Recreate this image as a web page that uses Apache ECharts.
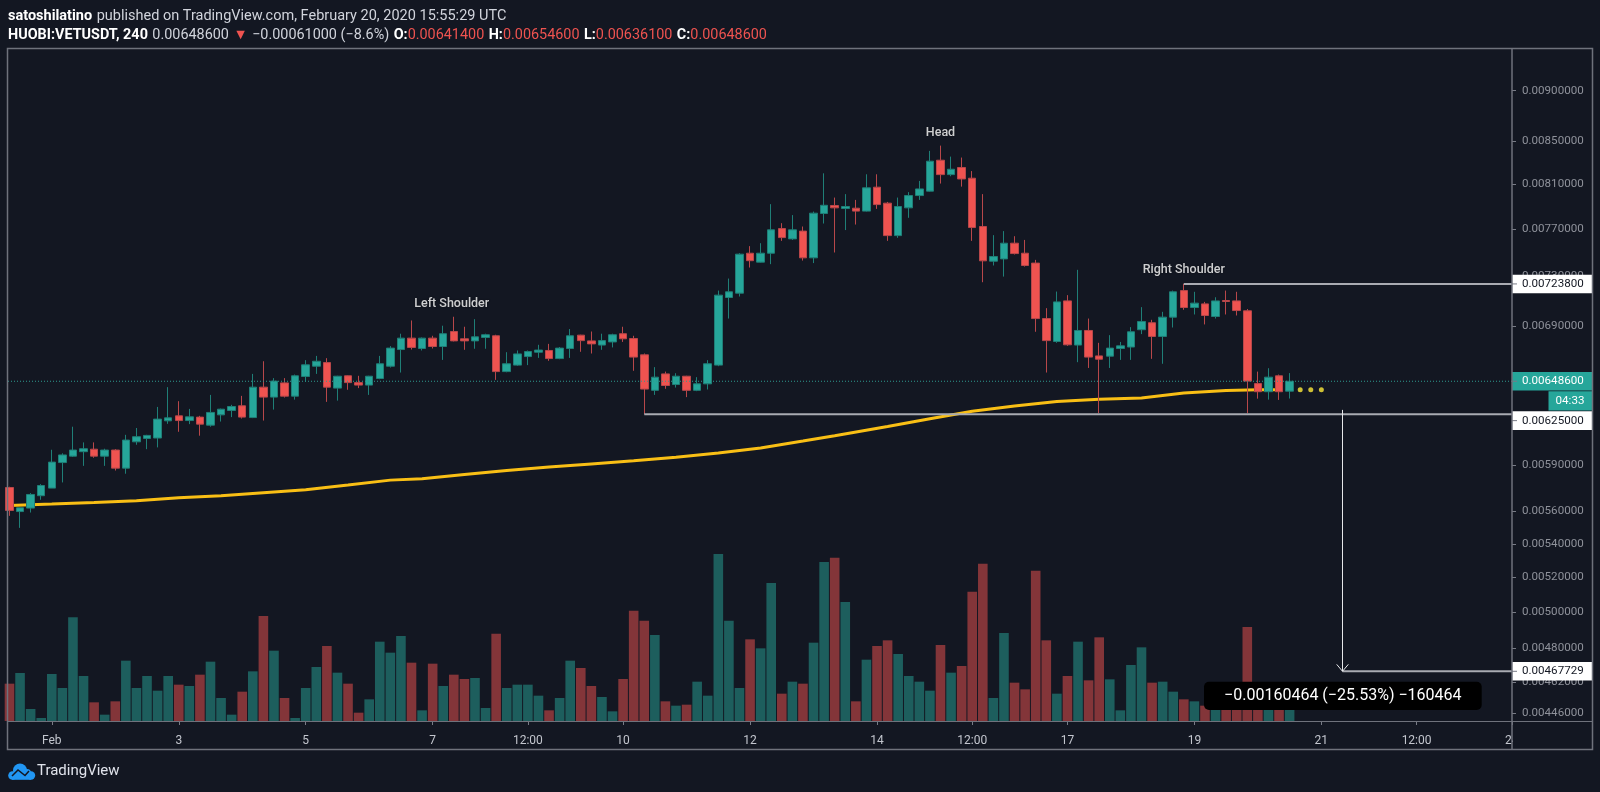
<!DOCTYPE html>
<html>
<head>
<meta charset="utf-8">
<title>HUOBI:VETUSDT, 240</title>
<style>
  html, body { margin: 0; padding: 0; background: #131722; }
  #chart { width: 1600px; height: 792px; }
</style>
<script src="https://cdn.jsdelivr.net/npm/echarts@6/dist/echarts.min.js"></script>
</head>
<body>
<div id="chart"></div>
<script>
// 4h candles, x is the candle number counted from Feb 1 00:00
const firstCandle = -4
// prices below are in units of 0.00001
const priceUnit = 0.00001

const opens = [575.4, 560.0, 562.2, 570.1, 575.0, 591.8, 596.1, 599.1, 600.8, 596.1, 600.2, 588.1, 605.8, 608.1, 608.4, 620.3, 623.8, 620.5, 622.9, 617.3, 624.5, 627.6, 630.9, 622.6, 644.3, 637.1, 647.4, 637.8, 652.1, 659.7, 662.4, 643.6, 652.6, 647.6, 645.8, 650.6, 659.7, 672.2, 680.9, 673.0, 680.9, 674.5, 686.0, 680.4, 678.8, 681.4, 682.7, 655.7, 660.5, 666.9, 670.2, 671.5, 665.4, 673.0, 683.2, 678.8, 675.6, 678.0, 684.3, 680.6, 668.2, 642.0, 654.0, 646.2, 652.3, 642.0, 646.7, 660.5, 712.8, 716.3, 749.3, 741.8, 749.3, 770.4, 761.5, 768.2, 745.4, 783.6, 790.7, 788.0, 788.3, 785.7, 807.2, 792.8, 764.3, 788.6, 799.6, 803.6, 832.1, 818.7, 825.3, 815.4, 772.2, 742.6, 744.5, 757.8, 749.3, 741.0, 696.1, 678.3, 710.1, 675.6, 686.8, 667.4, 667.2, 673.0, 674.1, 687.4, 692.8, 682.2, 697.2, 718.4, 704.8, 707.7, 697.7, 710.4, 710.1, 702.2, 646.9, 641.0, 652.6, 641.4]
const closes = [560.7, 562.4, 570.9, 576.7, 592.1, 596.9, 600.2, 601.1, 596.1, 600.2, 588.1, 607.0, 609.3, 610.2, 621.5, 622.4, 620.5, 623.1, 618.0, 626.2, 628.5, 630.4, 622.9, 644.3, 637.1, 648.7, 637.8, 652.6, 660.7, 663.4, 644.3, 652.3, 647.6, 645.8, 652.3, 661.5, 673.3, 680.9, 673.8, 680.9, 674.5, 684.3, 678.8, 678.8, 681.9, 683.5, 655.7, 661.5, 668.9, 670.7, 671.8, 665.4, 673.3, 682.7, 679.0, 676.5, 679.0, 683.5, 680.4, 666.5, 642.9, 651.6, 645.5, 652.3, 642.0, 646.7, 661.5, 714.7, 717.4, 748.5, 743.0, 749.3, 769.3, 762.6, 769.3, 745.4, 783.9, 790.9, 788.6, 789.8, 785.7, 806.6, 791.5, 764.3, 789.8, 799.6, 805.6, 831.2, 818.7, 823.7, 814.7, 771.3, 742.9, 746.5, 757.8, 749.0, 739.0, 696.1, 679.0, 709.3, 675.8, 686.8, 666.5, 664.9, 673.3, 675.0, 685.8, 693.8, 682.2, 697.2, 717.4, 704.8, 708.3, 698.5, 710.1, 709.6, 702.4, 648.7, 641.0, 651.6, 641.0, 648.6]
const lows = [557.3, 549.8, 559.4, 567.5, 575.0, 578.7, 595.6, 589.6, 595.0, 589.6, 586.5, 584.4, 603.8, 600.8, 602.0, 618.2, 612.7, 618.0, 610.0, 616.2, 619.8, 622.9, 621.9, 622.2, 620.5, 628.2, 636.8, 635.3, 648.4, 654.0, 633.7, 634.6, 642.4, 643.6, 638.7, 650.1, 658.7, 655.0, 672.2, 671.5, 673.0, 664.4, 678.4, 672.0, 672.8, 672.8, 649.6, 655.2, 660.0, 660.5, 665.9, 663.7, 664.9, 665.9, 670.5, 669.2, 672.0, 673.8, 678.0, 656.3, 625.0, 638.7, 643.1, 644.0, 637.1, 641.4, 642.6, 659.7, 696.1, 713.6, 737.3, 741.5, 740.1, 759.8, 760.6, 743.1, 741.0, 774.8, 749.9, 769.1, 773.9, 785.3, 787.7, 759.8, 762.4, 779.8, 795.7, 803.2, 810.5, 817.2, 807.7, 759.8, 725.2, 739.0, 729.8, 748.2, 738.1, 685.8, 655.0, 677.3, 675.0, 662.7, 658.4, 625.7, 658.4, 664.4, 664.4, 684.0, 665.2, 661.5, 689.1, 703.0, 699.3, 691.5, 696.1, 699.3, 698.5, 625.7, 636.0, 635.3, 635.1, 636.1]
const highs = [575.9, 562.4, 571.8, 577.6, 600.4, 598.0, 616.2, 605.4, 605.4, 601.1, 600.8, 610.6, 615.3, 610.6, 630.1, 644.3, 634.2, 628.7, 623.8, 638.7, 628.9, 631.6, 638.0, 654.0, 663.4, 650.9, 650.9, 653.5, 664.2, 667.4, 665.7, 652.6, 652.9, 652.6, 652.6, 667.4, 674.8, 684.3, 694.6, 681.4, 682.7, 690.5, 697.5, 689.7, 695.6, 684.3, 683.5, 670.2, 671.5, 671.5, 675.8, 676.5, 674.1, 687.9, 683.5, 686.0, 684.3, 684.3, 689.7, 682.7, 669.2, 659.0, 655.7, 654.5, 652.6, 651.6, 664.2, 718.4, 728.2, 749.3, 755.3, 757.8, 791.9, 775.1, 782.2, 772.2, 785.3, 819.9, 797.8, 800.9, 795.7, 819.0, 819.0, 793.9, 797.8, 802.7, 812.9, 840.9, 845.9, 835.5, 834.6, 822.0, 800.9, 764.7, 768.2, 763.8, 760.6, 743.7, 704.3, 717.6, 714.7, 735.4, 696.1, 677.3, 683.2, 678.0, 689.4, 705.1, 695.1, 701.4, 718.4, 723.9, 717.4, 709.3, 713.0, 718.4, 717.4, 703.6, 655.7, 658.2, 653.5, 654.6]
const volumes = [112, 144, 36, 9, 141, 99, 311, 135, 56, 19, 59, 181, 99, 135, 91, 135, 109, 105, 139, 178, 69, 19, 88, 149, 315, 211, 69, 9, 99, 162, 225, 145, 112, 25, 65, 238, 205, 255, 175, 32, 172, 105, 139, 126, 129, 39, 262, 99, 109, 109, 76, 32, 69, 181, 159, 105, 72, 29, 126, 331, 301, 258, 59, 46, 49, 118, 76, 501, 301, 99, 245, 218, 414, 82, 118, 112, 235, 477, 490, 357, 59, 184, 225, 242, 201, 135, 118, 91, 228, 145, 165, 388, 472, 69, 264, 115, 95, 451, 242, 82, 135, 238, 122, 251, 125, 32, 168, 221, 115, 118, 88, 65, 59, 46, 70, 80, 75, 282, 60, 50, 70, 60]

const maIndex = [-4, 0, 4, 8, 12, 16, 20, 24, 28, 32, 35, 39, 43, 47, 51, 55, 59, 63, 67, 71, 74, 79, 83, 87, 91, 95, 99, 103, 107, 111, 114, 116]
const maValues = [563.9, 564.8, 565.8, 566.9, 568.8, 570.1, 572.0, 573.9, 577.0, 580.2, 581.1, 583.9, 586.5, 588.8, 590.9, 593.0, 595.4, 598.2, 601.6, 606.3, 610.0, 616.4, 621.7, 627.0, 630.7, 634.0, 635.6, 636.5, 640.0, 641.8, 642.4, 642.4]
const maDotIndex = [118, 119, 120]
const maDotValue = 642.4

const lastPrice = 0.006486
const neckline = 0.00625
const shoulderTop = 0.007238
const targetPrice = 0.00467729

const priceTicks = [0.009, 0.0085, 0.0081, 0.0077, 0.0073, 0.0069, 0.0065, 0.0062, 0.0059, 0.0056, 0.0054, 0.0052, 0.005, 0.0048, 0.00462, 0.00446]
const timeTicks = [0, 12, 24, 36, 45, 54, 66, 78, 87, 96, 108, 120, 129, 138]
const timeLabels = ["Feb", "3", "5", "7", "12:00", "10", "12", "14", "12:00", "17", "19", "21", "12:00", "24"]

const noteNames = ["Left Shoulder", "Head", "Right Shoulder"]
const noteIndex = [37.8, 84, 107]
const notePrices = [0.007076, 0.008582, 0.007352]

const tagPrices = [shoulderTop, lastPrice, neckline, targetPrice]
const tagOffsets = [0, 0, 6.5, 0]
const tagFills = ["#ffffff", "#26a69a", "#ffffff", "#ffffff"]
const tagTexts = ["#131722", "#ffffff", "#131722", "#131722"]

const bg = "#131722"
const frame = "#6f727c"
const fontName = "Roboto, sans-serif"
const xMin = -4.14
const xMax = 138.02
const gridBox = { left: 8, top: 49, width: 1504, height: 672 }
const volumeMax = 2016

const candleData = opens.map((o, k) => [
  firstCandle + k,
  o * priceUnit,
  closes[k] * priceUnit,
  lows[k] * priceUnit,
  highs[k] * priceUnit,
])
const volumeData = volumes.map((v, k) => [firstCandle + k, v])
const maData = maIndex.map((x, k) => [x, maValues[k] * priceUnit])

function guideLine(points, color, width, dash) {
  return {
    type: "line",
    data: points,
    symbol: "none",
    silent: true,
    clip: false,
    z: 4,
    lineStyle: { color: color, width: width, type: dash || "solid" },
  }
}

function renderTag(params, api) {
  const k = params.dataIndex
  const p = api.coord([xMax, api.value(1)])
  const cy = p[1] + tagOffsets[k]
  const children = [
    { type: "rect", shape: { x: p[0], y: cy - 9.3, width: 80.5, height: 18.6 }, style: { fill: tagFills[k] } },
    { type: "line", shape: { x1: p[0], y1: cy, x2: p[0] + 5, y2: cy }, style: { stroke: "#787b86", lineWidth: 1 } },
    {
      type: "text",
      style: {
        x: p[0] + 10,
        y: cy,
        text: (tagPrices[k]).toFixed(8),
        fill: tagTexts[k],
        font: "11.6px " + fontName,
        textVerticalAlign: "middle",
      },
    },
  ]
  if (tagPrices[k] === lastPrice) {
    children.push({ type: "rect", shape: { x: p[0] + 36.5, y: cy + 10, width: 43.5, height: 19.3 }, style: { fill: "#26a69a" } })
    children.push({
      type: "text",
      style: {
        x: p[0] + 58,
        y: cy + 19.5,
        text: "04:33",
        fill: "#ffffff",
        font: "11.6px " + fontName,
        textAlign: "center",
        textVerticalAlign: "middle",
      },
    })
  }
  return { type: "group", children: children }
}

const chart = echarts.init(document.getElementById("chart"))

chart.setOption({
  backgroundColor: bg,
  animation: false,
  textStyle: { fontFamily: fontName },
  title: [
    {
      left: 8,
      top: 7,
      padding: 0,
      text: "{b|satoshilatino} {n|published on TradingView.com, February 20, 2020 15:55:29 UTC}",
      textStyle: {
        rich: {
          b: { fontFamily: fontName, fontSize: 14.5, fontWeight: "bold", color: "#ffffff" },
          n: { fontFamily: fontName, fontSize: 14.5, fontWeight: "normal", color: "#d1d4dc" },
        },
      },
    },
    {
      left: 8,
      top: 26,
      padding: 0,
      text: "{b|HUOBI:VETUSDT, 240} {n|0.00648600} {r|▼} {n|−0.00061000 (−8.6%)} {b|O:}{r|0.00641400} {b|H:}{r|0.00654600} {b|L:}{r|0.00636100} {b|C:}{r|0.00648600}",
      textStyle: {
        rich: {
          b: { fontFamily: fontName, fontSize: 14.4, fontWeight: "bold", color: "#ffffff" },
          n: { fontFamily: fontName, fontSize: 14.4, fontWeight: "normal", color: "#d1d4dc" },
          r: { fontFamily: fontName, fontSize: 14.4, fontWeight: "normal", color: "#ef5350" },
        },
      },
    },
  ],
  grid: [
    { left: gridBox.left, top: gridBox.top, width: gridBox.width, height: gridBox.height },
    { left: gridBox.left, top: gridBox.top, width: gridBox.width, height: gridBox.height },
  ],
  xAxis: [
    { type: "value", gridIndex: 0, min: xMin, max: xMax, show: false },
    {
      type: "value",
      gridIndex: 1,
      min: xMin,
      max: xMax,
      position: "bottom",
      splitLine: { show: false },
      axisLine: { show: false, onZero: false },
      axisTick: { customValues: timeTicks, length: 4, lineStyle: { color: "#787b86" } },
      axisLabel: {
        customValues: timeTicks,
        color: "#c3c6ce",
        fontFamily: fontName,
        fontSize: 12,
        margin: 14,
        hideOverlap: false,
        formatter: (v) => timeLabels[timeTicks.indexOf(v)],
      },
    },
  ],
  yAxis: [
    {
      type: "log",
      gridIndex: 0,
      position: "right",
      min: 0.0044225,
      max: 0.0094323,
      splitLine: { show: false },
      axisLine: { show: false, onZero: false },
      axisTick: { customValues: priceTicks, length: 4, lineStyle: { color: "#787b86" } },
      axisLabel: {
        customValues: priceTicks,
        color: "#8f929b",
        fontFamily: fontName,
        fontSize: 11.6,
        margin: 10,
        formatter: (v) => Number(v).toFixed(8),
      },
    },
    { type: "value", gridIndex: 1, min: 0, max: volumeMax, show: false },
  ],
  series: [
    {
      name: "Volume",
      type: "bar",
      xAxisIndex: 1,
      yAxisIndex: 1,
      data: volumeData,
      barWidth: 9.6,
      silent: true,
      z: 1,
      itemStyle: {
        color: (p) => (closes[p.dataIndex] >= opens[p.dataIndex] ? "#1d5e5d" : "#833539"),
      },
    },
    {
      name: "MA",
      type: "line",
      data: maData,
      symbol: "none",
      silent: true,
      z: 2,
      lineStyle: { color: "#f9bf15", width: 3 },
    },
    {
      name: "VETUSDT",
      type: "candlestick",
      data: candleData,
      barWidth: 8,
      z: 3,
      itemStyle: {
        color: "#26a69a",
        color0: "#ef5350",
        borderColor: "#1f7f77",
        borderColor0: "#b8474a",
        borderWidth: 1,
      },
    },
    {
      name: "MA dots",
      type: "scatter",
      data: maDotIndex.map((x) => [x, maDotValue * priceUnit]),
      symbolSize: 5,
      silent: true,
      z: 4,
      itemStyle: { color: "#ffeb3b" },
    },
    guideLine([[xMin, lastPrice], [xMax, lastPrice]], "#2f9a90", 1, [1, 2]),
    guideLine([[56, neckline], [xMax, neckline]], "#a9abb2", 2),
    guideLine([[107, shoulderTop], [xMax, shoulderTop]], "#a9abb2", 2),
    guideLine([[122, targetPrice], [xMax, targetPrice]], "#a9abb2", 2),
    guideLine([[122, 0.00628], [122, targetPrice]], "#e6e7ea", 1),
    guideLine([[121.45, 0.004714], [122, targetPrice], [122.55, 0.004714]], "#e6e7ea", 1),
    {
      name: "Notes",
      type: "scatter",
      data: noteNames.map((n, k) => ({ name: n, value: [noteIndex[k], notePrices[k]] })),
      symbolSize: 0,
      silent: true,
      z: 5,
      label: {
        show: true,
        position: "inside",
        formatter: (p) => p.name,
        color: "#ffffff",
        fontFamily: fontName,
        fontSize: 12.5,
        fontWeight: 500,
        textShadowColor: "rgba(0,0,0,0.6)",
        textShadowBlur: 2,
      },
    },
    {
      name: "Price tags",
      type: "custom",
      data: tagPrices.map((p) => [xMax, p]),
      renderItem: renderTag,
      silent: true,
      clip: false,
      z: 6,
    },
  ],
  graphic: [
    // hides the right half of the last time label, the way the price pane does
    { type: "rect", z: 40, shape: { x: 1513, y: 723, width: 79, height: 26 }, style: { fill: bg } },
    { type: "rect", z: 50, shape: { x: 7.5, y: 48.5, width: 1585, height: 701 }, style: { fill: "none", stroke: frame, lineWidth: 1.5 } },
    { type: "line", z: 50, shape: { x1: 1512, y1: 49, x2: 1512, y2: 750 }, style: { stroke: frame, lineWidth: 1.5 } },
    { type: "line", z: 50, shape: { x1: 8, y1: 721.5, x2: 1592, y2: 721.5 }, style: { stroke: frame, lineWidth: 1 } },
    {
      type: "rect",
      z: 60,
      shape: { x: 1204, y: 681.7, width: 277.7, height: 28.3, r: 5 },
      style: { fill: "#000000" },
    },
    {
      type: "text",
      z: 61,
      style: {
        x: 1342.8,
        y: 695.8,
        text: "−0.00160464 (−25.53%) −160464",
        fill: "#ffffff",
        font: "16px " + fontName,
        textAlign: "center",
        textVerticalAlign: "middle",
      },
    },
    // cloud logo
    { type: "circle", z: 60, shape: { cx: 12.5, cy: 775.5, r: 4.3 }, style: { fill: "#2196f3" } },
    { type: "circle", z: 60, shape: { cx: 20, cy: 770.5, r: 7 }, style: { fill: "#2196f3" } },
    { type: "circle", z: 60, shape: { cx: 31, cy: 775.5, r: 4.2 }, style: { fill: "#2196f3" } },
    { type: "circle", z: 60, shape: { cx: 27, cy: 773, r: 4 }, style: { fill: "#2196f3" } },
    { type: "rect", z: 60, shape: { x: 12, y: 772, width: 19, height: 7.8 }, style: { fill: "#2196f3" } },
    {
      type: "polyline",
      z: 61,
      shape: { points: [[12, 776], [18, 770], [25, 775.5], [29, 771]] },
      style: { fill: "none", stroke: bg, lineWidth: 1.5 },
    },
    {
      type: "text",
      z: 60,
      style: {
        x: 37,
        y: 771,
        text: "TradingView",
        fill: "#e0e3eb",
        font: "15px " + fontName,
        textVerticalAlign: "middle",
      },
    },
  ],
})
</script>
</body>
</html>
